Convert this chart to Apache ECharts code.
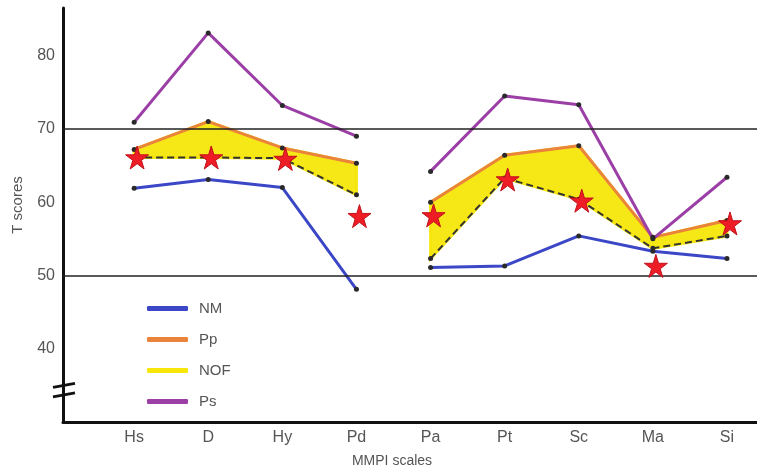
<!DOCTYPE html>
<html>
<head>
<meta charset="utf-8">
<script src="https://cdn.jsdelivr.net/npm/echarts@6/dist/echarts.min.js"></script>
<style>html,body{margin:0;padding:0;background:#fff}#c{width:757px;height:473px}</style>
</head>
<body>
<div id="c"></div>
<script>
// ---- data ----
const categories = ['Hs', 'D', 'Hy', 'Pd', 'Pa', 'Pt', 'Sc', 'Ma', 'Si'];
const NM  = [61.9, 63.1, 62.0, 48.1, 51.1, 51.3, 55.4, 53.3, 52.3];
const Pp  = [67.2, 71.0, 67.4, 65.3, 60.0, 66.4, 67.7, 55.2, 57.5];
const NOF = [66.1, 66.1, 66.0, 61.0, 52.3, 63.3, 60.4, 53.7, 55.4];
const Ps  = [70.9, 83.1, 73.2, 69.0, 64.2, 74.5, 73.3, 55.0, 63.4];
const stars = [66.1, 66.1, 65.9, 58.1, 58.2, 63.1, 60.2, 51.3, 57.1];
const yTicks = [40, 50, 60, 70, 80];
const refLines = [50, 70];
const groups = [[0, 1, 2, 3], [4, 5, 6, 7, 8]];

const C = { NM: '#3b47c6', Pp: '#ea843c', NOF: '#f6e60a', Ps: '#9b3fa6' };

function toLine(arr) {
  const out = [];
  groups.forEach((g, gi) => {
    if (gi > 0) out.push([g[0] + 0.5, '-']);
    g.forEach(i => out.push([i + 1, arr[i]]));
  });
  return out;
}
const dots = [];
[NM, Pp, NOF, Ps].forEach(a => a.forEach((v, i) => dots.push([i + 1, v])));

const starPath = 'path://M50,0 L61,35 L98,35 L68,57 L79,91 L50,70 L21,91 L32,57 L2,35 L39,35 Z';

const chart = echarts.init(document.getElementById('c'), null, { renderer: 'canvas' });
const txt = '#555';
const font = 'Liberation Sans, Arial, sans-serif';

const option = {
  animation: false,
  textStyle: { fontFamily: font },
  grid: { left: 63, right: 0, top: 8, bottom: 50 },
  xAxis: {
    type: 'value', min: 0.04, max: 9.405,
    axisLine: { show: true, onZero: false, lineStyle: { color: '#111', width: 3 } },
    axisTick: { show: false },
    splitLine: { show: false },
    axisLabel: {
      customValues: categories.map((c, i) => i + 1),
      formatter: v => categories[Math.round(v) - 1] || '',
      color: txt, fontSize: 16, margin: 8, fontFamily: font
    },
    name: 'MMPI scales', nameLocation: 'middle', nameGap: 32,
    nameTextStyle: { color: txt, fontSize: 14, fontFamily: font, padding: [0, 36, 0, 0] }
  },
  yAxis: {
    type: 'value', min: 30, max: 86.5,
    axisLine: { show: true, onZero: false, lineStyle: { color: '#111', width: 3 } },
    axisTick: { show: false },
    splitLine: { show: false },
    axisLabel: {
      customValues: yTicks,
      color: txt, fontSize: 16, margin: 8, fontFamily: font
    },
    name: 'T scores', nameLocation: 'middle', nameGap: 38,
    nameTextStyle: { color: txt, fontSize: 15, fontFamily: font, padding: [0, 0, 0, 20] }
  },
  legend: {
    orient: 'vertical', left: 142, top: 296,
    itemWidth: 41, itemHeight: 5, itemGap: 16,
    icon: 'roundRect',
    textStyle: { color: txt, fontSize: 15, fontFamily: font, padding: [0, 0, 0, 6] },
    data: [
      { name: 'NM', itemStyle: { color: C.NM } },
      { name: 'Pp', itemStyle: { color: C.Pp } },
      { name: 'NOF', itemStyle: { color: C.NOF } },
      { name: 'Ps', itemStyle: { color: C.Ps } }
    ]
  },
  series: [
    {
      name: 'NOF', type: 'custom', color: C.NOF, z: 1,
      data: groups.map((g, gi) => [gi]),
      renderItem: function (params, api) {
        const g = groups[api.value(0)];
        const pts = [];
        g.forEach(i => pts.push(api.coord([i + 1, Pp[i]])));
        g.slice().reverse().forEach(i => pts.push(api.coord([i + 1, NOF[i]])));
        return { type: 'polygon', shape: { points: pts }, style: { fill: C.NOF, stroke: C.NOF, lineWidth: 3, opacity: 0.95 } };
      }
    },
    {
      name: 'NOF line', type: 'line', data: toLine(NOF), symbol: 'none', z: 3,
      lineStyle: { color: '#333', width: 2, type: [7, 4] }
    },
    {
      name: 'NM', type: 'line', data: toLine(NM), symbol: 'none', color: C.NM, z: 3,
      lineStyle: { color: C.NM, width: 3 }
    },
    {
      name: 'Pp', type: 'line', data: toLine(Pp), symbol: 'none', color: C.Pp, z: 3,
      lineStyle: { color: C.Pp, width: 3 }
    },
    {
      name: 'Ps', type: 'line', data: toLine(Ps), symbol: 'none', color: C.Ps, z: 3,
      lineStyle: { color: C.Ps, width: 3 },
      markLine: {
        silent: true, symbol: 'none', label: { show: false },
        lineStyle: { color: '#222', width: 1.6, type: 'solid' },
        data: refLines.map(v => ({ yAxis: v }))
      }
    },
    {
      name: 'dots', type: 'scatter', data: dots, symbol: 'circle', symbolSize: 5, z: 4,
      itemStyle: { color: '#2a2a2a', opacity: 1 }
    },
    {
      name: 'stars', type: 'scatter', data: stars.map((v, i) => [i + 1, v]),
      symbol: starPath, symbolSize: 23, symbolOffset: [3, 0], z: 5,
      itemStyle: { color: '#ee1c25', borderColor: '#c0101a', borderWidth: 1, opacity: 1 }
    }
  ]
};
chart.setOption(option);

// axis break marks on the y axis
const pA = chart.convertToPixel({ gridIndex: 0 }, [0.04, 35.0]);
const pB = chart.convertToPixel({ gridIndex: 0 }, [0.04, 33.7]);
chart.setOption({
  graphic: [pA, pB].map(p => ({
    type: 'line', z: 10,
    shape: { x1: p[0] - 10, y1: p[1] + 2, x2: p[0] + 12, y2: p[1] - 2 },
    style: { stroke: '#111', lineWidth: 3 }
  }))
});
</script>
</body>
</html>
